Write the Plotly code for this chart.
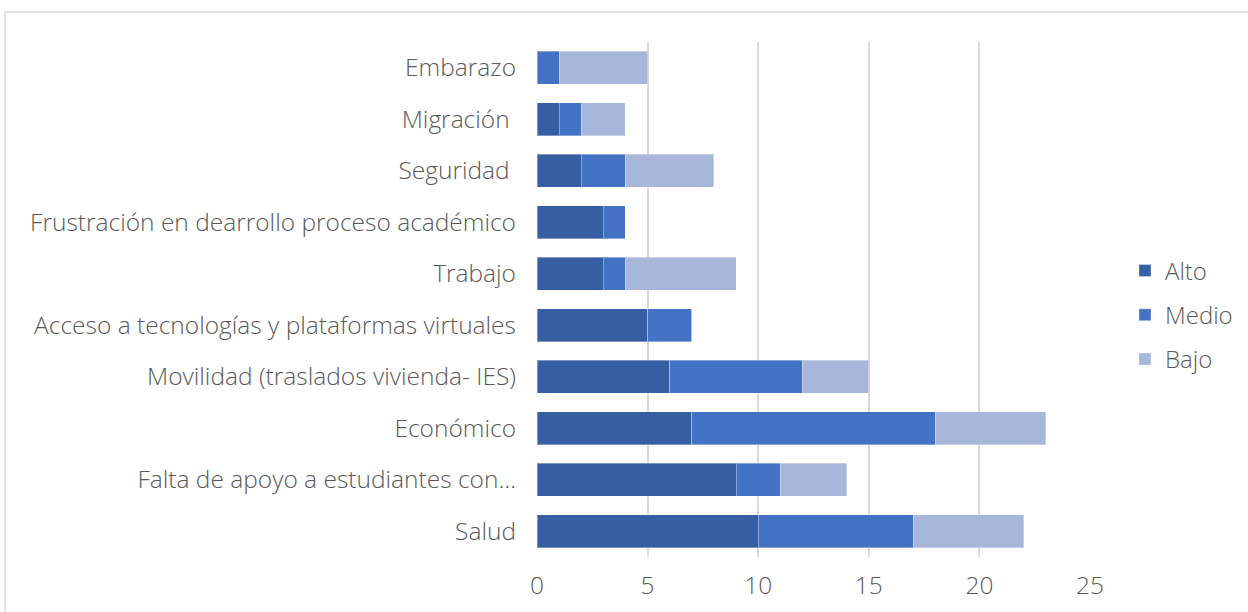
import plotly.graph_objects as go

categories = [
    "Embarazo",
    "Migración\u00a0",
    "Seguridad\u00a0",
    "Frustración en dearrollo proceso académico",
    "Trabajo",
    "Acceso a tecnologías y plataformas virtuales",
    "Movilidad (traslados vivienda- IES)",
    "Económico",
    "Falta de apoyo a estudiantes con…",
    "Salud",
]
alto = [0, 1, 2, 3, 3, 5, 6, 7, 9, 10]
medio = [1, 1, 2, 1, 1, 2, 6, 11, 2, 7]
bajo = [4, 2, 4, 0, 5, 0, 3, 5, 3, 5]
x_ticks = [0, 5, 10, 15, 20, 25]

series = [("Alto", alto, "#365EA3"), ("Medio", medio, "#4472C4"), ("Bajo", bajo, "#A8B6DA")]

FONT = "Open Sans"
GRAY = "#595959"
FS = 24.5

fig = go.Figure()
for i, (name, vals, color) in enumerate(series):
    fig.add_trace(go.Bar(
        y=categories, x=vals, name=name, orientation="h",
        marker=dict(color=color, line=dict(color="rgba(255,255,255,0.35)", width=1)),
        legendgroup=name,
    ))

W, H = 1248, 612
L, R, T, B = 537, 1090, 42, 557

tf = dict(family=FONT, size=FS, color=GRAY, weight=300)
lf = dict(family=FONT, size=24, color=GRAY, weight=300)

fig.update_layout(
    width=W, height=H,
    barmode="stack", bargap=0.36,
    plot_bgcolor="white", paper_bgcolor="white",
    margin=dict(l=L, r=W - R, t=T, b=H - B, autoexpand=False),
    font=tf,
    showlegend=True,
    legend=dict(
        x=(1125 - L) / (R - L), xanchor="left",
        y=(B - 315) / (B - T), yanchor="middle",
        traceorder="grouped", tracegroupgap=10,
        font=lf,
        itemwidth=30,
        bgcolor="rgba(0,0,0,0)",
    ),
    xaxis=dict(
        range=[0, 25], tickvals=x_ticks, showgrid=True,
        gridcolor="#D9D9D9", gridwidth=1.5, zeroline=False,
        showline=False, ticks="", ticklabelstandoff=11,
        tickfont=tf,
        fixedrange=True,
    ),
    yaxis=dict(
        autorange="reversed", showgrid=False, zeroline=False,
        showline=False, ticks="", ticklabelstandoff=20,
        tickfont=tf,
    ),
)

# chart area border (partially cropped in reference)
fig.add_shape(
    type="rect", xref="paper", yref="paper",
    x0=(5 - L) / (R - L), x1=(1300 - L) / (R - L),
    y0=(B - 700) / (B - T), y1=(B - 12) / (B - T),
    line=dict(color="#D9D9D9", width=1.5), fillcolor="rgba(0,0,0,0)",
    layer="below",
)

fig.write_html(
    "out.html",
    config={"displayModeBar": False},
    post_script="document.body.style.margin='0';document.body.style.overflow='hidden';",
)
